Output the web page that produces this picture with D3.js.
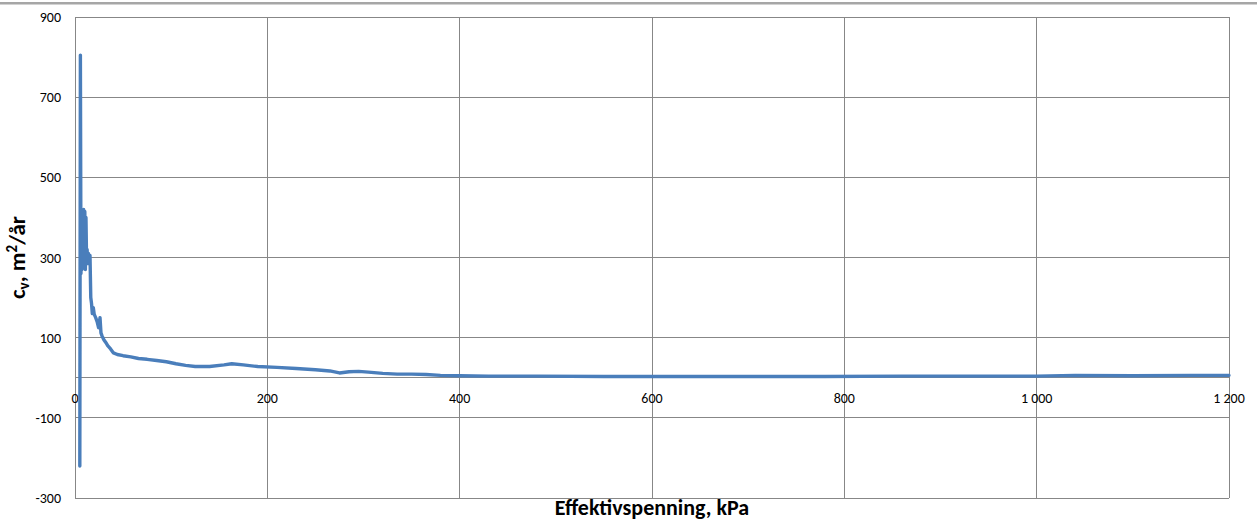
<!DOCTYPE html>
<html>
<head>
<meta charset="utf-8">
<script src="https://cdn.jsdelivr.net/npm/d3@7"></script>
<style>
  body { margin: 0; background: #fff; }
  text { font-family: Carlito, Calibri, Lato, "Open Sans", sans-serif; }
</style>
</head>
<body>
<div id="chart"></div>
<script>
// effective stress (kPa) and cv (m2/year)
const stress = [5.0, 5.6, 6.2, 6.8, 7.3, 7.8, 8.4, 9.0, 9.6, 10.2, 10.8, 11.4, 12.0, 12.6, 13.2, 14.0, 14.8, 15.6, 16.4, 17.2, 18.0, 19.0, 20.0, 21.5, 23.0, 24.5, 26.0, 27.0, 28.0, 30.0, 32.0, 34.0, 37.0, 40.0, 44.0, 50.0, 58.0, 66.0, 75.0, 85.0, 95.0, 105.0, 115.0, 125.0, 140.0, 155.0, 163.0, 175.0, 190.0, 210.0, 230.0, 250.0, 265.0, 275.0, 285.0, 295.0, 305.0, 320.0, 335.0, 350.0, 365.0, 380.0, 400.0, 430.0, 480.0, 550.0, 620.0, 700.0, 780.0, 860.0, 940.0, 1000.0, 1040.0, 1100.0, 1160.0, 1200.0];
const cv = [-220, 805, 260, 390, 270, 395, 280, 420, 290, 415, 270, 400, 300, 320, 285, 310, 290, 305, 200, 185, 160, 175, 158, 150, 140, 125, 150, 112, 105, 95, 88, 80, 72, 62, 58, 55, 52, 48, 46, 43, 40, 35, 31, 28, 28, 32, 35, 32, 28, 26, 23, 20, 17, 12, 15, 16, 14, 11, 9, 9, 8, 6, 5, 4, 4, 3, 3, 3, 3, 4, 4, 4, 6, 5, 6, 6];

const xTicks = [0, 200, 400, 600, 800, 1000, 1200];
const yTicks = [-300, -100, 100, 300, 500, 700, 900];

const W = 1257, H = 529;
const plot = { left: 75, right: 1229, top: 17, bottom: 498 };

const svg = d3.select('#chart').append('svg')
    .attr('width', W)
    .attr('height', H);

// thin grey border at the top of the page
svg.append('rect')
    .attr('x', 0).attr('y', 2)
    .attr('width', W).attr('height', 2.5)
    .attr('fill', '#a6a6a6');

const x = d3.scaleLinear().domain([0, 1200]).range([plot.left, plot.right]);
const y = d3.scaleLinear().domain([-300, 900]).range([plot.bottom, plot.top]);

const fmt = v => d3.format(',')(v).replace(/,/g, ' ');

// gridlines
svg.append('g')
    .selectAll('line')
    .data(yTicks)
    .join('line')
    .attr('x1', plot.left).attr('x2', plot.right)
    .attr('y1', d => y(d)).attr('y2', d => y(d))
    .attr('stroke', '#878787').attr('stroke-width', 1)
    .attr('shape-rendering', 'crispEdges');

svg.append('g')
    .selectAll('line')
    .data(xTicks)
    .join('line')
    .attr('x1', d => x(d)).attr('x2', d => x(d))
    .attr('y1', plot.top).attr('y2', plot.bottom)
    .attr('stroke', '#878787').attr('stroke-width', 1)
    .attr('shape-rendering', 'crispEdges');

// x axis line at zero
svg.append('line')
    .attr('x1', plot.left).attr('x2', plot.right)
    .attr('y1', y(0)).attr('y2', y(0))
    .attr('stroke', '#878787').attr('stroke-width', 1)
    .attr('shape-rendering', 'crispEdges');

// y tick labels
svg.append('g')
    .selectAll('text')
    .data(yTicks)
    .join('text')
    .attr('x', plot.left - 14)
    .attr('y', d => y(d) + 5)
    .attr('text-anchor', 'end')
    .attr('font-size', 14)
    .attr('fill', '#000')
    .text(d => d);

// x tick labels just below the zero line
svg.append('g')
    .selectAll('text')
    .data(xTicks)
    .join('text')
    .attr('x', d => x(d))
    .attr('y', y(0) + 25)
    .attr('text-anchor', 'middle')
    .attr('font-size', 14)
    .attr('fill', '#000')
    .text(d => fmt(d));

// the series
const pts = stress.map((s, i) => [s, cv[i]]);
const line = d3.line()
    .x(d => x(d[0]))
    .y(d => y(d[1]));

svg.append('path')
    .datum(pts)
    .attr('d', line)
    .attr('fill', 'none')
    .attr('stroke', '#4a7ebb')
    .attr('stroke-width', 3.4)
    .attr('stroke-linejoin', 'round')
    .attr('stroke-linecap', 'round');

// axis titles
svg.append('text')
    .attr('x', (plot.left + plot.right) / 2)
    .attr('y', 515)
    .attr('text-anchor', 'middle')
    .attr('font-size', 22)
    .attr('font-weight', 'bold')
    .text('Effektivspenning, kPa');

const yt = svg.append('text')
    .attr('transform', 'translate(25,' + ((plot.top + plot.bottom) / 2) + ') rotate(-90)')
    .attr('text-anchor', 'middle')
    .attr('font-size', 23)
    .attr('font-weight', 'bold');
yt.append('tspan').text('c');
yt.append('tspan').attr('font-size', 15).attr('dy', 4).text('v');
yt.append('tspan').attr('dy', -4).text(', m');
yt.append('tspan').attr('font-size', 15).attr('dy', -8).text('2');
yt.append('tspan').attr('dy', 8).text('/år');
</script>
</body>
</html>
